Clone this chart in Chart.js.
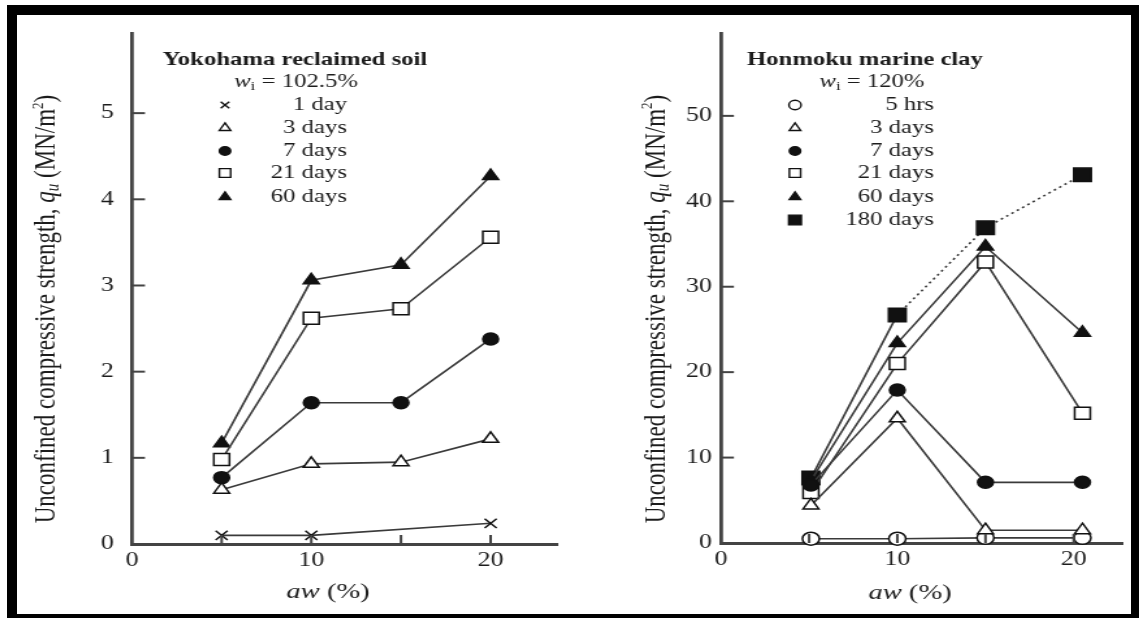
<!DOCTYPE html>
<html>
<head>
<meta charset="utf-8">
<script src="https://cdn.jsdelivr.net/npm/chart.js@4/dist/chart.umd.min.js"></script>
<style>
  html,body{margin:0;padding:0;background:#fff;}
  #wrap{position:relative;width:1139px;height:618px;overflow:hidden;background:#fff;}
  canvas{position:absolute;top:0;}
  #frame{position:absolute;left:7px;top:5px;width:1132px;height:613px;box-sizing:border-box;
    border-style:solid;border-color:#000;border-width:10px 8px 4px 10px;pointer-events:none;}
</style>
</head>
<body>
<div id="wrap">
  <canvas id="cv-left" width="438" height="618" style="left:0;width:570px;height:618px"></canvas>
  <canvas id="cv-right" width="438" height="618" style="left:570px;width:569px;height:618px"></canvas>
  <div id="frame"></div>
</div>
<script>
/* unconfined compressive strength vs aw — two panels */
const xYoko=[5,10,15,20];
const yoko1d=[0.10,0.10,null,0.24];
const yoko3d=[0.63,0.93,0.95,1.22];
const yoko7d=[0.77,1.64,1.64,2.38];
const yoko21d=[0.98,2.62,2.73,3.56];
const yoko60d=[1.17,3.06,3.24,4.27];
const yokoLabels=['1 day','3 days','7 days','21 days','60 days'];
const yokoYTicks=[0,1,2,3,4,5];
const yokoXTicks=[0,10,20];

const xHon=[5.1,10,15,20.5];
const hon5h=[0.5,0.5,0.6,0.6];
const hon3d=[4.4,14.6,1.5,1.5];
const hon7d=[6.8,17.9,7.1,7.1];
const hon21d=[5.9,21.0,32.9,15.2];
const hon60d=[7.3,23.4,34.7,24.6];
const hon180d=[7.6,26.7,36.9,43.1];
const honLabels=['5 hrs','3 days','7 days','21 days','60 days','180 days'];
const honYTicks=[0,10,20,30,40,50];
const honXTicks=[0,10,20];

(function(){
  const FAM="'Liberation Serif','Times New Roman',serif";
  const INK='#1c1c1c', LINE='#3a3a3a';
  const fontOf=(p,b)=>`${p.it?'italic ':''}${(p.bold||b.bold)?'bold ':''}${p.size||b.size}px ${FAM}`;

  function drawRich(ctx,parts,x,y,align,base){
    let w=0;
    parts.forEach(p=>{ ctx.font=fontOf(p,base); w+=ctx.measureText(p.t).width; });
    let cx=align==='center'?x-w/2:align==='right'?x-w:x;
    ctx.textAlign='left'; ctx.textBaseline='middle'; ctx.fillStyle=INK;
    parts.forEach(p=>{ ctx.font=fontOf(p,base); ctx.fillText(p.t,cx,y+(p.dy||0)); cx+=ctx.measureText(p.t).width; });
  }

  const qTitle=[{t:'Unconfined compressive strength, '},{t:'q',it:true},{t:'u',it:true,size:15,dy:5},
    {t:' (MN/m'},{t:'2',size:13,dy:-7},{t:')'}];
  const awTitle=[{t:'aw',it:true},{t:' (%)'}];

  // plugin: inward ticks, titles, in-plot legend
  const decor={
    id:'decor',
    afterDraw(chart,args,o){
      const ctx=chart.ctx, k=chart.width/o.cssW, ix=x=>(x-o.cssLeft)*k;
      const {x:xs,y:ys}=chart.scales, a=chart.chartArea;
      ctx.save();
      ctx.strokeStyle='#444'; ctx.lineWidth=2;
      o.yTicks.forEach(v=>{ const py=ys.getPixelForValue(v); if(v===0) return;
        ctx.beginPath(); ctx.moveTo(a.left,py); ctx.lineTo(a.left+10,py); ctx.stroke(); });
      o.xTicks.forEach(v=>{ const px=xs.getPixelForValue(v);
        ctx.beginPath(); ctx.moveTo(px,a.bottom); ctx.lineTo(px,a.bottom-9); ctx.stroke(); });

      o.head.forEach(h=>drawRich(ctx,h.parts,ix(h.x),h.y,'center',{size:19,bold:h.bold}));

      chart.data.datasets.forEach((d,i)=>{
        const y=o.legY[i];
        ctx.fillStyle=d.pointBackgroundColor; ctx.strokeStyle=d.pointBorderColor;
        ctx.lineWidth=1.4;
        Chart.helpers.drawPoint(ctx,{pointStyle:d.pointStyle,radius:d.pointRadius*0.72,rotation:0,borderWidth:1.4},ix(o.legX),y);
        drawRich(ctx,[{t:d.label}],ix(o.legRight),y,'right',{size:19});
      });

      ctx.save(); ctx.translate(ix(o.yTitle.x),o.yTitle.y); ctx.rotate(-Math.PI/2);
      drawRich(ctx,qTitle,0,0,'center',{size:23}); ctx.restore();
      drawRich(ctx,awTitle,ix(o.xTitle.x),o.xTitle.y,'center',{size:22});
      ctx.restore();
    }
  };

  function series(xs,ys,label,style,fill,r,extra){
    return Object.assign({label,data:xs.map((x,i)=>({x,y:ys[i]})),
      borderColor:LINE,borderWidth:1.6,pointStyle:style,pointRadius:r,
      pointBackgroundColor:fill,pointBorderColor:'#111',pointBorderWidth:1.5,
      spanGaps:true,clip:false,tension:0},extra||{});
  }

  function axis(min,max,step,labels,fit,pad,bw){
    return {type:'linear',min,max,afterFit:fit,grid:{display:false,drawTicks:false,tickLength:0},
      border:{display:true,color:'#444',width:bw},
      ticks:{stepSize:step,autoSkip:false,includeBounds:false,maxRotation:0,padding:pad,color:INK,
        font:{family:FAM,size:20},callback:v=>labels.includes(v)?String(v):''}};
  }

  function build(id,datasets,cfg){
    new Chart(document.getElementById(id),{type:'line',data:{datasets},
      plugins:[decor],
      options:{responsive:false,devicePixelRatio:1,animation:false,
        layout:{padding:{top:33,right:cfg.padR,left:0,bottom:0}},
        plugins:{legend:{display:false},tooltip:{enabled:false},decor:cfg},
        scales:{
          x:axis(0,cfg.xMax,5,cfg.xLab,s=>{s.height=cfg.xH;},5,3),
          y:axis(0,cfg.yMax,cfg.yStep,cfg.yLab,s=>{s.width=cfg.yW;},cfg.yPad,2.8)
        }}});
  }

  build('cv-left',[
    series(xYoko,yoko1d,yokoLabels[0],'crossRot','#111',6.5),
    series(xYoko,yoko3d,yokoLabels[1],'triangle','#fff',7),
    series(xYoko,yoko7d,yokoLabels[2],'circle','#111',6),
    series(xYoko,yoko21d,yokoLabels[3],'rect','#fff',8.5),
    series(xYoko,yoko60d,yokoLabels[4],'triangle','#111',7)
  ],{cssLeft:0,cssW:570,padR:5.4,xH:74,yW:101.4,yPad:14,xMax:23.7,yMax:5.93,yStep:1,
     xLab:yokoXTicks,yLab:yokoYTicks,yTicks:yokoYTicks,xTicks:[5,10,15,20],
     head:[{parts:[{t:'Yokohama reclaimed soil'}],x:295,y:60,bold:true},
           {parts:[{t:'w',it:true},{t:'i',size:13,dy:5},{t:' = 102.5%'}],x:296,y:82}],
     legX:225,legRight:347,legY:[105,128,151,173,197],
     yTitle:{x:47,y:309},xTitle:{x:328,y:592}});

  build('cv-right',[
    series(xHon,hon5h,honLabels[0],'circle','#fff',6.5,{order:1}),
    series(xHon,hon3d,honLabels[1],'triangle','#fff',7),
    series(xHon,hon7d,honLabels[2],'circle','#111',6),
    series(xHon,hon21d,honLabels[3],'rect','#fff',8.5),
    series(xHon,hon60d,honLabels[4],'triangle','#111',7),
    series(xHon,hon180d,honLabels[5],'rect','#111',9.5,
      {segment:{borderDash:c=>c.p0DataIndex>=1?[2,3]:undefined}})
  ],{cssLeft:570,cssW:569,padR:12.3,xH:75,yW:116.2,yPad:7,xMax:22.8,yMax:59.7,yStep:10,
     xLab:honXTicks,yLab:honYTicks,yTicks:honYTicks,xTicks:[5,10,15,20],
     head:[{parts:[{t:'Honmoku marine clay'}],x:865,y:60,bold:true},
           {parts:[{t:'w',it:true},{t:'i',size:13,dy:5},{t:' = 120%'}],x:872,y:82}],
     legX:795,legRight:934,legY:[105,128,151,173,197,220],
     yTitle:{x:657,y:309},xTitle:{x:910,y:593}});
})();
</script>
</body>
</html>
